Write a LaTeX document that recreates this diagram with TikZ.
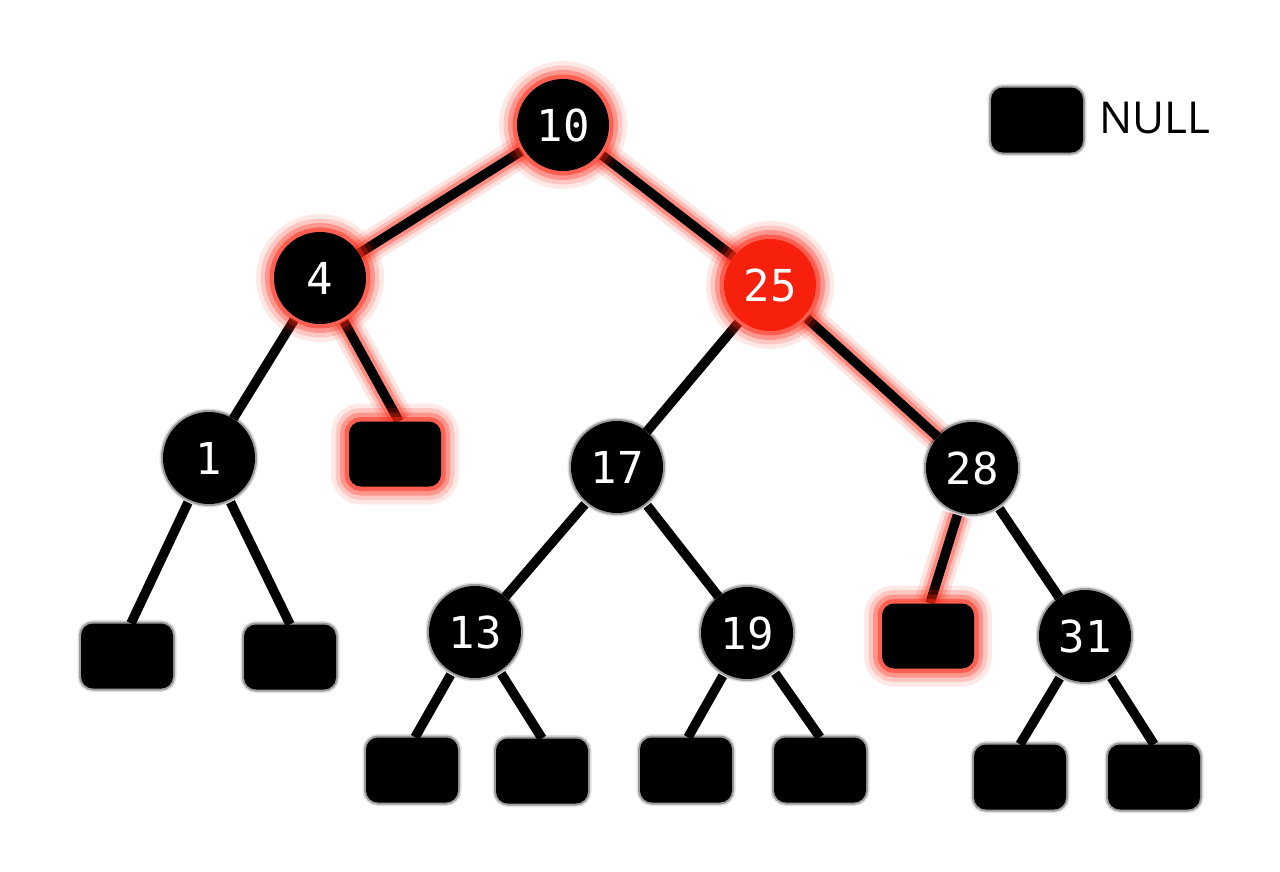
\documentclass[tikz,border=0pt]{standalone}
\usepackage{fontspec}
\newfontfamily\numfont{DejaVu Sans Mono}
\newfontfamily\lblfont{Open Sans}
\pgfdeclarelayer{background}
\pgfsetlayers{background,main}
\definecolor{glowred}{RGB}{255,40,20}
\definecolor{redfill}{RGB}{246,32,12}
\tikzset{
  softedge/.style={
    preaction={draw=black,line width=7pt,opacity=0.12},
    preaction={draw=black,line width=4pt,opacity=0.3}},
  glownode/.style={
    preaction={draw=glowred,line width=36pt,opacity=0.1},
    preaction={draw=glowred,line width=27pt,opacity=0.18},
    preaction={draw=glowred,line width=18pt,opacity=0.3},
    preaction={draw=glowred,line width=9pt,opacity=0.5}},
  treenode/.style={circle,fill=black,minimum size=92pt,inner sep=0pt,
    text=white,font=\numfont\fontsize{44}{44}\selectfont},
  rednode/.style={treenode,fill=redfill},
  nullbox/.style={rectangle,rounded corners=12pt,fill=black,
    minimum width=92pt,minimum height=65pt,inner sep=0pt},
  edge/.style={draw=black,line width=9.5pt,shorten <=3pt},
  glowedge/.style={edge,
    preaction={draw=glowred,line width=32pt,opacity=0.12,shorten <=3pt},
    preaction={draw=glowred,line width=24pt,opacity=0.2,shorten <=3pt},
    preaction={draw=glowred,line width=17pt,opacity=0.35,shorten <=3pt}},
  legendtext/.style={anchor=west,inner sep=0pt,font=\lblfont\fontsize{44}{44}\selectfont}
}
\begin{document}
\begin{tikzpicture}[x=1pt,y=-1pt]
\useasboundingbox (0,0) rectangle (1280,871);
% tree nodes
\node[treenode,glownode] (n10) at (563,125) {10};
\node[treenode,glownode] (n4) at (320,278) {4};
\node[rednode,glownode] (n25) at (770,285) {25};
\node[treenode,softedge] (n1) at (209,458) {1};
\node[treenode,softedge] (n17) at (617,467) {17};
\node[treenode,softedge] (n28) at (972,468) {28};
\node[treenode,softedge] (n13) at (475,632) {13};
\node[treenode,softedge] (n19) at (747,633) {19};
\node[treenode,softedge] (n31) at (1085,636) {31};
% null leaves
\node[nullbox,glownode] (z4) at (395,454) {};
\node[nullbox,glownode] (z28) at (928,636) {};
\node[nullbox,softedge] (z1a) at (127,656) {};
\node[nullbox,softedge] (z1b) at (290,657) {};
\node[nullbox,softedge] (z13a) at (412,770) {};
\node[nullbox,softedge] (z13b) at (542,771) {};
\node[nullbox,softedge] (z19a) at (686,770) {};
\node[nullbox,softedge] (z19b) at (820,770) {};
\node[nullbox,softedge] (z31a) at (1020,777) {};
\node[nullbox,softedge] (z31b) at (1154,777) {};
% legend
\node[nullbox,softedge] (leg) at (1037,120) {};
\node[legendtext] (legt) at (1099,118) {NULL};
% edges
\begin{pgfonlayer}{background}
\draw[glowedge] (n10) -- (n4);
\draw[glowedge] (n10) -- (n25);
\draw[edge] (n4) -- (n1);
\draw[glowedge] (n4) -- ([xshift=4pt]z4.north);
\draw[edge] (n25) -- (n17);
\draw[glowedge] (n25) -- (n28);
\draw[edge] (n1) -- ([xshift=4pt]z1a.north);
\draw[edge] (n1) -- (z1b.north);
\draw[edge] (n17) -- (n13);
\draw[edge] (n17) -- (n19);
\draw[glowedge] (n28) -- ([xshift=2pt]z28.north);
\draw[edge] (n28) -- (n31);
\draw[edge] (n13) -- ([xshift=3pt]z13a.north);
\draw[edge] (n13) -- (z13b.north);
\draw[edge] (n19) -- ([xshift=2pt]z19a.north);
\draw[edge] (n19) -- (z19b.north);
\draw[edge] (n31) -- (z31a.north);
\draw[edge] (n31) -- (z31b.north);
\end{pgfonlayer}
\end{tikzpicture}
\end{document}
